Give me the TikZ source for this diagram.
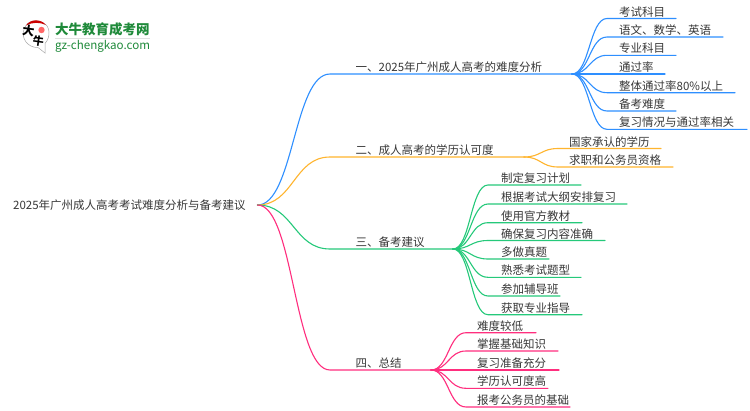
\documentclass[tikz,border=0pt]{standalone}
\usepackage{fontspec}
\setmainfont{Noto Sans CJK SC}
\usetikzlibrary{calc}
\definecolor{cblue}{HTML}{2E8FFF}
\definecolor{cyellow}{HTML}{FFB52E}
\definecolor{cgreen}{HTML}{25C97A}
\definecolor{cpink}{HTML}{FF2E7E}
\definecolor{cgtext}{HTML}{1F8A3A}
\tikzset{
 lab/.style={inner sep=0pt,anchor=base west,text=black!78,font=\fontsize{11.5}{13}\selectfont},
 wire/.style={line width=1.1pt,line cap=round},
 pt/.style={inner sep=0pt,minimum size=0pt},
}
% #1 colour, #2 source coordinate, #3 bend x, #4 y of line, #5 end x, #6 name, #7 text x, #8 text
\newcommand{\limb}[8]{%
 \coordinate (#6s) at (#3,#4);
 \coordinate (#6e) at (#5,#4);
 \coordinate (#6a) at ($(#2)!0.5!(#6s|-#2)$);
 \coordinate (#6b) at (#6a|-#6s);
 \draw[wire,#1] (#2) .. controls (#6a) and (#6b) .. (#6s) -- (#6e);
 \node[lab] (#6t) at (#7,#4-2.5) {#8};
}
\begin{document}
\begin{tikzpicture}[x=1pt,y=-1pt]
\useasboundingbox (0,0) rectangle (750,410);
\fill[white] (0,0) rectangle (750,410);
% logo
\draw[black!35,line width=.5pt,fill=white] (45,43.5) .. controls (51,37) and (50,26) .. (44,23.5) .. controls (37,19) and (28,20) .. (24.5,28) .. controls (20,38) and (28,48) .. (38,47.5) -- (45,53) -- cycle;
\fill[red!80!black] (26,25.5) .. controls (30,19) and (41,18.5) .. (46,25) .. controls (40,22) and (32,22) .. (26,25.5) -- cycle;
\fill[red!60!white] (41.5,30) circle (3.2);
\node[pt,font=\fontsize{12}{12}\bfseries\selectfont,rotate=-8] (dlogo) at (28.5,31) {大};
\node[pt,font=\fontsize{11}{11}\bfseries\selectfont,rotate=-8] (nlogo) at (38.5,41) {牛};
\node[pt,anchor=base west,text=cgtext,font=\fontsize{13.5}{14}\bfseries\selectfont] (brand) at (55,34.5) {大牛教育成考网};
\draw[black!12,line width=.8pt] (55,38.7) -- (150,38.7);
\node[pt,anchor=base west,text=cgtext,font=\fontsize{11.6}{12}\selectfont] (site) at (55,49) {gz-chengkao.com};
% hubs
\coordinate (root) at (257.5,205);
\coordinate (b1) at (572,74);
\coordinate (b2) at (524,157);
\coordinate (b3) at (453,249);
\coordinate (b4) at (431,370);
\node[lab] (rt) at (13,209.7) {2025年广州成人高考考试难度分析与备考建议};
% main branches
\limb{cblue}{root}{330}{74}{572}{ma}{355.5}{一、2025年广州成人高考的难度分析}
\limb{cyellow}{root}{330}{157}{524}{mb}{355.5}{二、成人高考的学历认可度}
\limb{cgreen}{root}{330}{249}{453}{mc}{355.5}{三、备考建议}
\limb{cpink}{root}{330}{370}{431}{md}{355.5}{四、总结}
% group 1
\limb{cblue}{b1}{607}{18.5}{676}{aa}{619}{考试科目}
\limb{cblue}{b1}{607}{37}{723}{ab}{619}{语文、数学、英语}
\limb{cblue}{b1}{607}{55.3}{676}{ac}{619}{专业科目}
\limb{cblue}{b1}{607}{74}{665}{ad}{619}{通过率}
\limb{cblue}{b1}{607}{92.7}{735}{ae}{619}{整体通过率80\%以上}
\limb{cblue}{b1}{607}{111}{676}{af}{619}{备考难度}
\limb{cblue}{b1}{607}{129.3}{747}{ag}{619}{复习情况与通过率相关}
% group 2
\limb{cyellow}{b2}{558}{148.5}{661}{ba}{569}{国家承认的学历}
\limb{cyellow}{b2}{558}{167}{673}{bb}{569}{求职和公务员资格}
% group 3
\limb{cgreen}{b3}{488}{185}{581}{ca}{501}{制定复习计划}
\limb{cgreen}{b3}{488}{204}{627}{cb}{501}{根据考试大纲安排复习}
\limb{cgreen}{b3}{488}{222.7}{582}{cc}{501}{使用官方教材}
\limb{cgreen}{b3}{488}{240.5}{605}{cd}{501}{确保复习内容准确}
\limb{cgreen}{b3}{488}{259}{549}{ce}{501}{多做真题}
\limb{cgreen}{b3}{488}{277.3}{581}{cf}{501}{熟悉考试题型}
\limb{cgreen}{b3}{488}{296}{560}{cg}{501}{参加辅导班}
\limb{cgreen}{b3}{488}{314.7}{582}{ch}{501}{获取专业指导}
% group 4
\limb{cpink}{b4}{466}{332.7}{536}{da}{477}{难度较低}
\limb{cpink}{b4}{466}{351}{558}{db}{477}{掌握基础知识}
\limb{cpink}{b4}{466}{370}{559}{dc}{477}{复习准备充分}
\limb{cpink}{b4}{466}{388.3}{548}{dd}{477}{学历认可度高}
\limb{cpink}{b4}{466}{407}{570}{de}{477}{报考公务员的基础}
\end{tikzpicture}
\end{document}
